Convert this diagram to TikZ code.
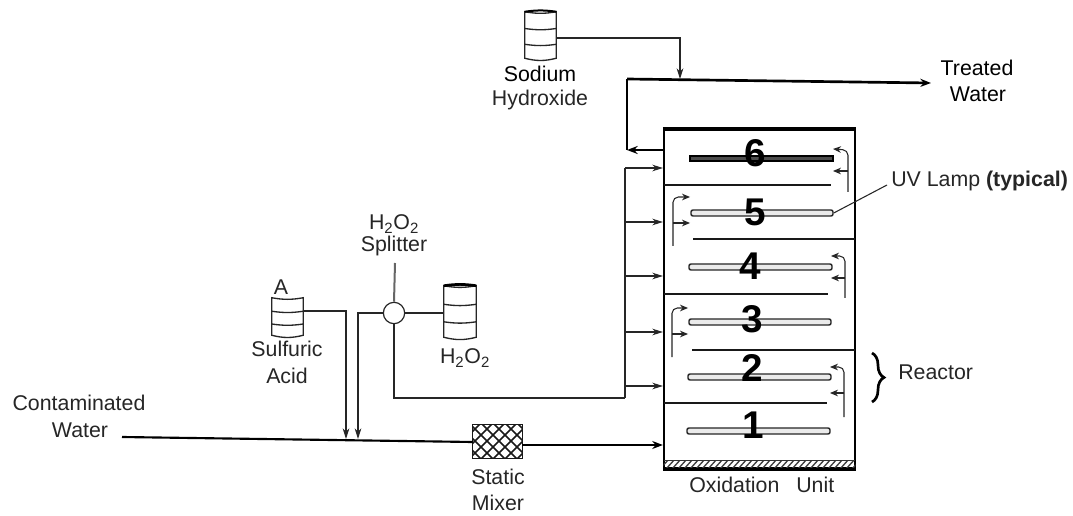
\documentclass[tikz,border=0pt]{standalone}
\usepackage{fontspec}
\setmainfont{Liberation Sans}
\usetikzlibrary{arrows.meta,fit,calc,decorations.pathreplacing}
\tikzset{
  x=0.75pt,y=-0.75pt,
  lbl/.style={inner sep=0pt,font=\fontsize{16}{19}\selectfont,text=black!85,align=center},
  dark lbl/.style={lbl,text=black,font=\fontsize{16}{19}\selectfont},
  digit/.style={inner sep=0pt,font=\fontsize{29}{29}\selectfont\bfseries,text=black},
  thin line/.style={line width=0.8pt,black!85},
  feed/.style={line width=0.8pt,black!85,-{Stealth[length=8pt,width=5pt]}},
  main/.style={line width=1.6pt,black,-{Stealth[length=8pt,width=6pt]}},
  baffle/.style={line width=1pt,black!90},
  lamp/.style={draw=black!85,line width=1.1pt,fill=black!8,rounded corners=1.5pt,inner sep=0pt},
  darklamp/.style={draw=black,line width=2pt,fill=black!70,inner sep=0pt},
  bracket/.style={line width=0.8pt,black!85,rounded corners=4pt,-{Stealth[length=6pt,width=5pt]}},
  branch/.style={line width=0.8pt,black!85,-{Stealth[length=6pt,width=5pt]}},
  drumbody/.style={inner sep=0pt},
  drumline/.style={line width=1pt,black!85},
}
\newcommand{\drumshape}[1]{%
  \draw[drumline] (#1.north west) -- (#1.south west) to[bend right=14] (#1.south east) -- (#1.north east) to[bend left=10] cycle;
  \draw[drumline] ($(#1.north west)!0.36!(#1.south west)$) to[bend right=8] ($(#1.north east)!0.36!(#1.south east)$);
  \draw[drumline] ($(#1.north west)!0.70!(#1.south west)$) to[bend right=8] ($(#1.north east)!0.70!(#1.south east)$);
}
\begin{document}
\begin{tikzpicture}
\useasboundingbox (0,0) rectangle (1073,516);
\fill[white] (0,0) rectangle (1073,516);

% oxidation unit
\node[fit={(664,130)(855,468)},inner sep=0pt,draw=black,line width=1.7pt] (unit) {};
\node[fit={(664,461)(855,467)},inner sep=0pt] (hatch) {};
\begin{scope}
  \clip (hatch.north west) rectangle (hatch.south east);
  \foreach \xx in {660,666,...,860}{
    \draw[line width=1pt,black!75] (\xx,469) -- (\xx+9,459);
  }
\end{scope}
\draw[line width=1pt,black!80] (hatch.north west) -- (hatch.north east);
\draw[line width=3.5pt,black] (unit.north west) -- (unit.north east);
\draw[line width=2.2pt,black] (unit.south west) -- (unit.south east);

% baffles
\coordinate (b6a) at (664,185); \coordinate (b6b) at (831,185);
\coordinate (b5a) at (693,239); \coordinate (b5b) at (855,239);
\coordinate (b4a) at (664,294); \coordinate (b4b) at (828,294);
\coordinate (b3a) at (692,350); \coordinate (b3b) at (855,350);
\coordinate (b2a) at (664,403); \coordinate (b2b) at (827,403);
\draw[baffle,line width=1.5pt] (b6a) -- (b6b);
\draw[baffle] (b5a) -- (b5b);
\draw[baffle] (b4a) -- (b4b);
\draw[baffle] (b3a) -- (b3b);
\draw[baffle] (b2a) -- (b2b);

% lamps
\node[darklamp,fit={(690,156)(833,161)}] (lamp6) {};
\node[lamp,fit={(691,210)(833,216)}] (lamp5) {};
\node[lamp,fit={(689,264)(832,270)}] (lamp4) {};
\node[lamp,fit={(689,319)(831,325)}] (lamp3) {};
\node[lamp,fit={(688,374)(831,380)}] (lamp2) {};
\node[lamp,fit={(687,428)(830,434)}] (lamp1) {};

% numbers
\node[digit] (n6) at (755,153) {6};
\node[digit] (n5) at (755,212) {5};
\node[digit] (n4) at (750,266) {4};
\node[digit] (n3) at (752,319) {3};
\node[digit] (n2) at (752,368) {2};
\node[digit] (n1) at (753,425) {1};

% internal flow brackets
\coordinate (r6s) at (848,192); \coordinate (r6c) at (848,150); \coordinate (r6e) at (833,149);
\coordinate (r6m) at (848,171); \coordinate (r6n) at (833,171);
\draw[bracket] (r6s) -- (r6c) -- (r6e);
\draw[branch] (r6m) -- (r6n);
\coordinate (r4s) at (845,298); \coordinate (r4c) at (845,256); \coordinate (r4e) at (831,256);
\coordinate (r4m) at (845,278); \coordinate (r4n) at (831,278);
\draw[bracket] (r4s) -- (r4c) -- (r4e);
\draw[branch] (r4m) -- (r4n);
\coordinate (r2s) at (844,417); \coordinate (r2c) at (844,367); \coordinate (r2e) at (830,367);
\coordinate (r2m) at (844,393); \coordinate (r2n) at (830,393);
\draw[bracket] (r2s) -- (r2c) -- (r2e);
\draw[branch] (r2m) -- (r2n);
\coordinate (l5s) at (673,246); \coordinate (l5c) at (673,197); \coordinate (l5e) at (690,197);
\coordinate (l5m) at (673,223); \coordinate (l5n) at (690,223);
\draw[bracket] (l5s) -- (l5c) -- (l5e);
\draw[branch] (l5m) -- (l5n);
\coordinate (l3s) at (672,357); \coordinate (l3c) at (672,308); \coordinate (l3e) at (688,308);
\coordinate (l3m) at (672,334); \coordinate (l3n) at (688,334);
\draw[bracket] (l3s) -- (l3c) -- (l3e);
\draw[branch] (l3m) -- (l3n);

% drums
\node[drumbody,fit={(272,298)(303,335)}] (drumS) {};
\drumshape{drumS}
\node[drumbody,fit={(444,286)(476,337)}] (drumH) {};
\drumshape{drumH}
\draw[line width=2pt,black] (drumH.north west) to[bend left=8] (drumH.north east);
\node[drumbody,fit={(525,12)(556,58)}] (drumN) {};
\drumshape{drumN}
\draw[line width=1.5pt,black] (drumN.north west) to[bend left=8] (drumN.north east);

% splitter
\node[circle,draw=black!85,line width=0.9pt,minimum size=16pt,inner sep=0pt,fill=white] (split) at (394,313) {};
\coordinate (stem) at (395,263);
\draw[line width=1.5pt,black!60] (stem) -- (split.north);
\draw[thin line] (drumH.west |- split) -- (split.east);

% mixer
\node[fit={(473,425)(522,458)},inner sep=0pt,fill=white] (mixer) {};
\begin{scope}
  \clip (mixer.north west) rectangle (mixer.south east);
  \foreach \xx in {430,442,...,560}{
    \draw[line width=1.1pt,black!90] (\xx,420) -- (\xx+42,462);
    \draw[line width=1.1pt,black!90] (\xx,462) -- (\xx+42,420);
  }
\end{scope}
\draw[line width=1pt,black!90] (mixer.north west) rectangle (mixer.south east);

% main line
\coordinate (cw) at (122,437);
\coordinate (j1) at (346,439);
\coordinate (j2) at (358,439);
\draw[line width=1.6pt,black] (cw) -- (mixer.west |- 0,442);
\draw[main] (mixer.east |- 0,445) -- (unit.west |- 0,445);

% sulfuric acid feed
\draw[feed] (drumS.east |- 0,311) -| (j1);
% splitter to main line
\draw[feed] (split.west) -| (j2);

% H2O2 distribution
\coordinate (bus) at (625,398);
\coordinate (busTop) at (625,168);
\draw[thin line] (split.south) |- (bus);
\draw[thin line] (bus) -- (busTop);
\draw[feed] (busTop) -- (unit.west |- busTop);
\foreach \yy in {222,276,332,386}{
  \draw[feed] (bus |- 0,\yy) -- (unit.west |- 0,\yy);
}

% treated water
\coordinate (tw) at (931,83);
\coordinate (tc) at (627,79);
\coordinate (tb) at (627,150);
\coordinate (oh) at (680,79);
\draw[line width=2pt,black,-{Stealth[length=8pt,width=6pt]}] (tc) -- (tw);
\draw[line width=2.2pt,black] (tb) -- (tc);
\draw[main] (unit.west |- tb) -- (tb);
\draw[feed] (drumN.east |- 0,38) -| (oh);

% uv lamp leader
\coordinate (uv) at (887,185);
\draw[thin line] (lamp5.east) -- (uv);

% reactor brace
\coordinate (bt) at (872,353);
\coordinate (bb) at (872,402);
\draw[line width=2pt,black,decorate,decoration={brace,amplitude=9pt}] (bt) -- (bb);

% labels
\node[dark lbl] (tSodium) at (540,74) {Sodium};
\node[lbl] (tHydro) at (540,100) {Hydroxide};
\node[dark lbl] (tTreated) at (977,68) {Treated};
\node[dark lbl] (tWater) at (978,94) {Water};
\node[lbl,anchor=west] (tUV) at (891,181) {UV Lamp \textbf{(typical)}};
\node[lbl,anchor=west] (tReact) at (898,372) {Reactor};
\node[lbl] (tCont) at (79,403) {Contaminated};
\node[lbl] (tCW) at (80,430) {Water};
\node[lbl] (tStatic) at (498,477) {Static};
\node[lbl] (tMix) at (498,503) {Mixer};
\node[lbl,anchor=west] (tOx) at (689,485) {Oxidation};
\node[lbl,anchor=west] (tUnit) at (796,485) {Unit};
\node[lbl] (tH1) at (394,224) {H\textsubscript{2}O\textsubscript{2}};
\node[lbl] (tSpl) at (394,246) {Splitter};
\node[lbl] (tA) at (281,287) {A};
\node[lbl] (tSul) at (287,349) {Sulfuric};
\node[lbl] (tAcid) at (287,376) {Acid};
\node[lbl] (tH2) at (465,358) {H\textsubscript{2}O\textsubscript{2}};
\end{tikzpicture}
\end{document}
